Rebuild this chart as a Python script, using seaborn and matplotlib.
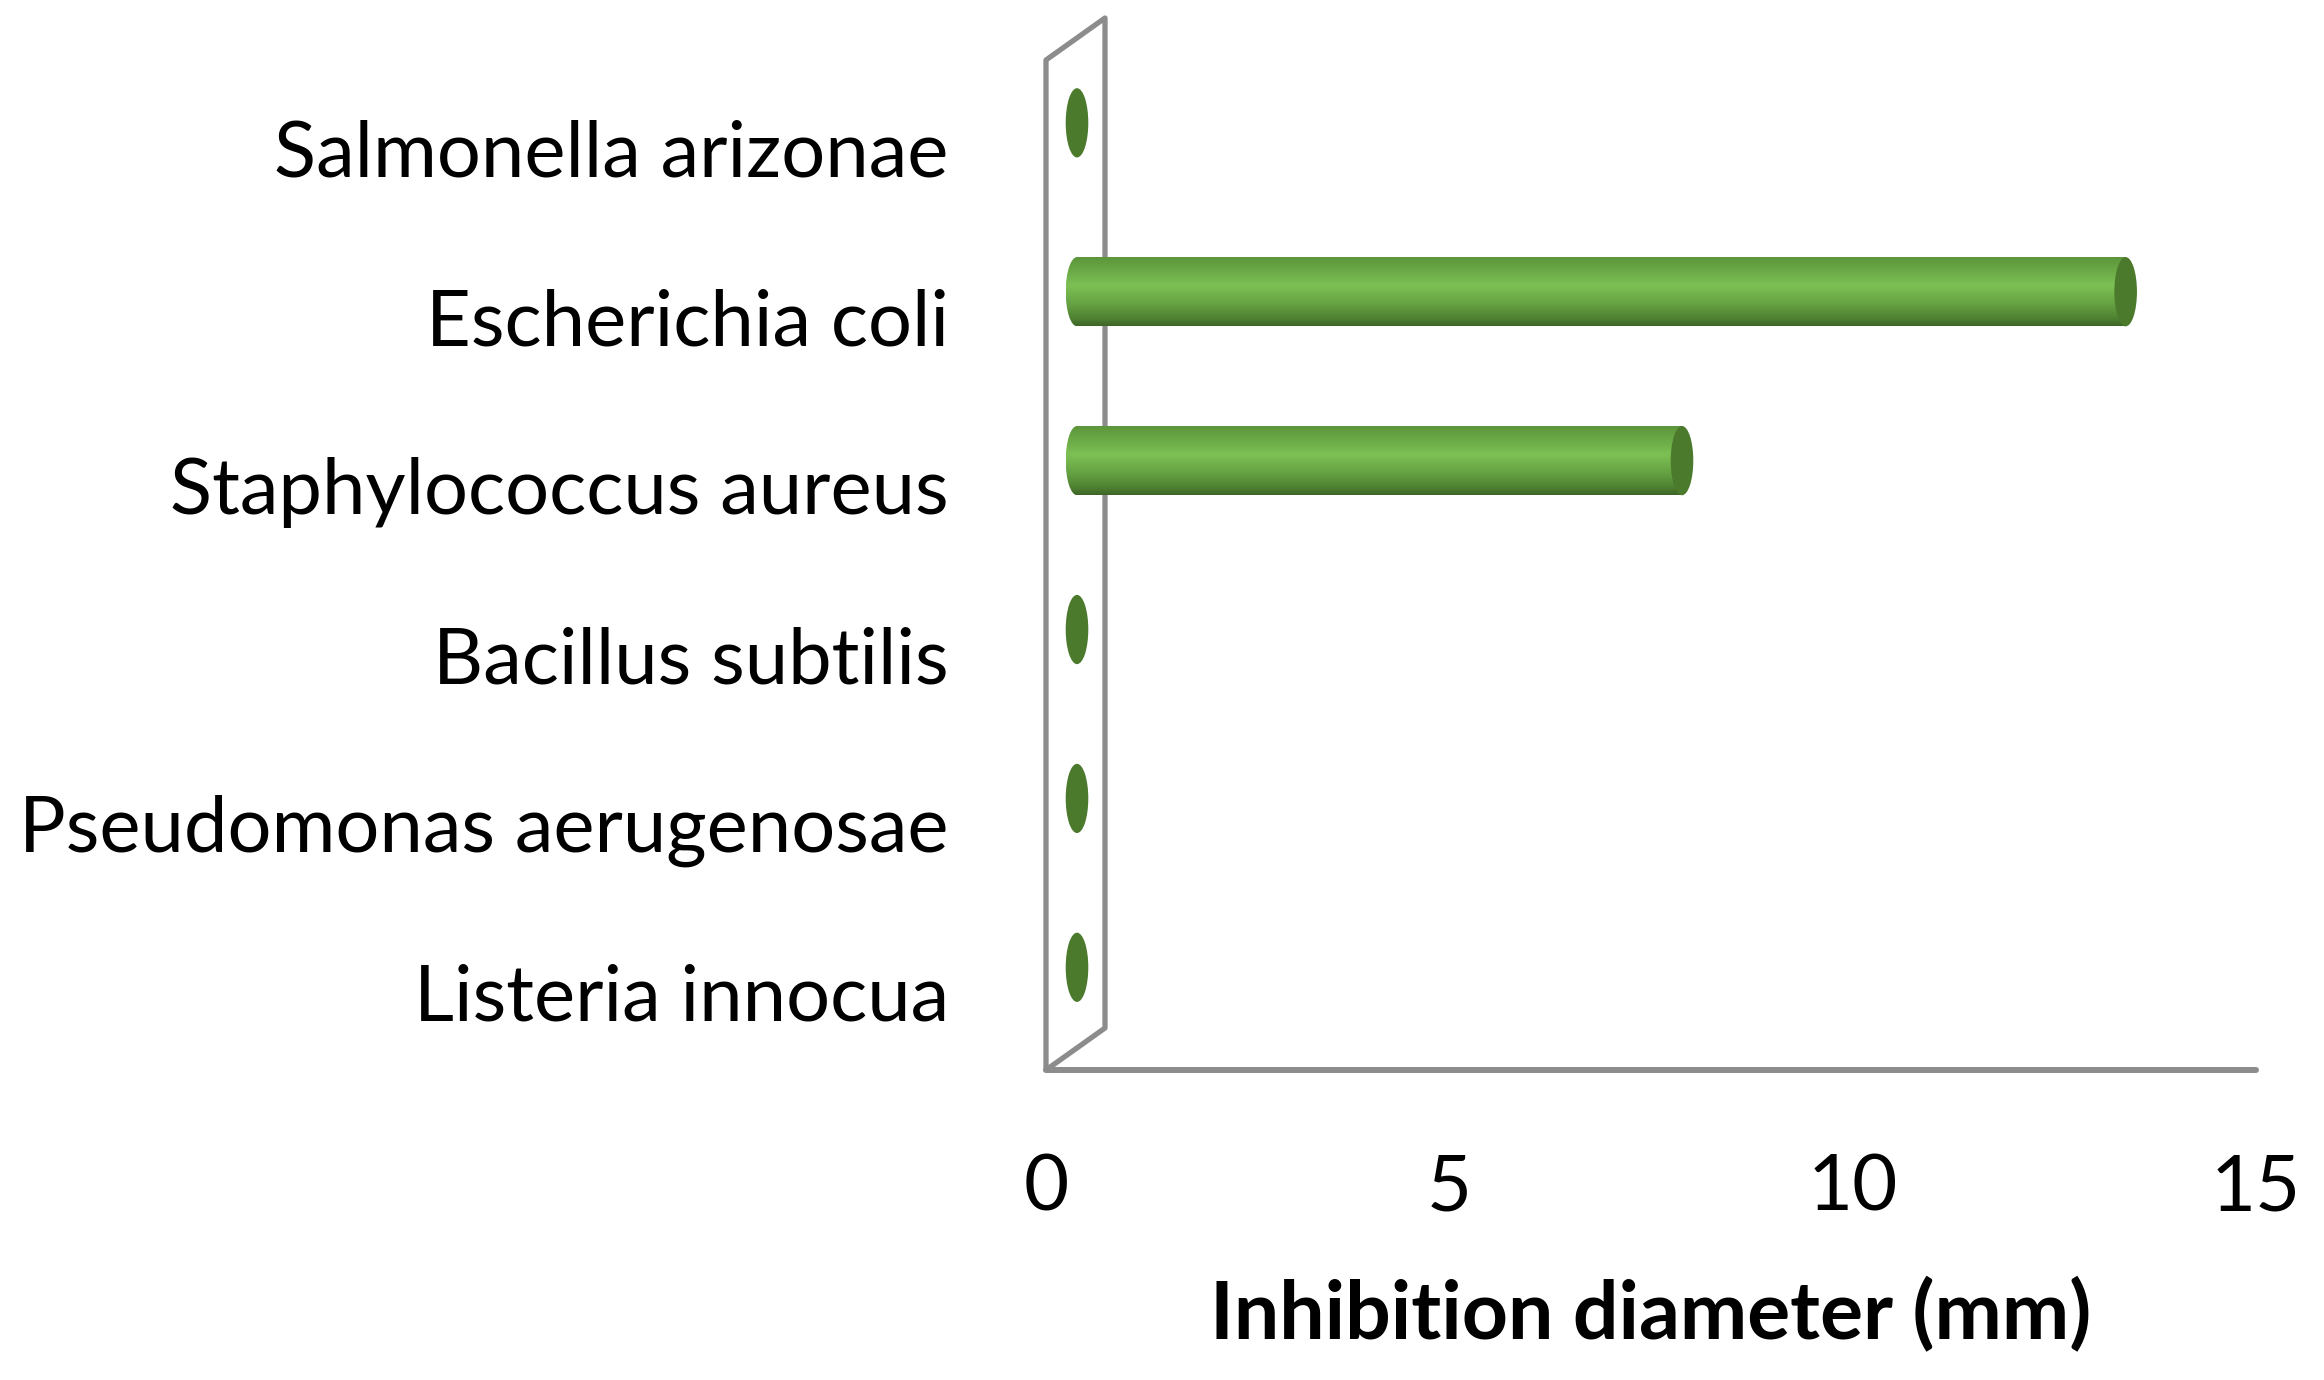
import numpy as np
import pandas as pd
import matplotlib
matplotlib.use("Agg")
import matplotlib.pyplot as plt
import matplotlib.transforms as mtransforms
from matplotlib.colors import LinearSegmentedColormap
from matplotlib.patches import Ellipse, Polygon
import seaborn as sns

species = ["Salmonella arizonae", "Escherichia coli", "Staphylococcus aureus",
           "Bacillus subtilis", "Pseudomonas aerugenosae", "Listeria innocua"]
inhibition = [0, 13, 7.5, 0, 0, 0]
x_ticks = [0, 5, 10, 15]

df = pd.DataFrame({"species": species, "diameter": inhibition})

sns.set_style("white")
plt.rcParams["font.family"] = ["Lato", "DejaVu Sans"]

fig = plt.figure(figsize=(23.24, 13.8), dpi=100)
# axes box: front plane of the fake 3d plot area
ax = fig.add_axes([1046 / 2324, 310 / 1380, 1210 / 2324, 1010 / 1380])

sns.barplot(data=df, x="diameter", y="species", orient="h", color="#6fae48",
            width=0.41, ax=ax)

ax.set_xlim(0, 15)
ax.set_ylim(5.46, -0.52)
ax.set_xticks(x_ticks)
ax.set_xticklabels([str(t) for t in x_ticks])
ax.tick_params(axis="x", length=0, pad=60, labelsize=56, labelcolor="black")
ax.tick_params(axis="y", length=0, pad=70, labelsize=56, labelcolor="black")
ax.set_ylabel("")
ax.set_xlabel("Inhibition diameter (mm)", fontsize=58, fontweight="bold",
              color="black", labelpad=38)

for side in ["top", "right", "left"]:
    ax.spines[side].set_visible(False)
ax.spines["bottom"].set_color("#8c8c8c")
ax.spines["bottom"].set_linewidth(4.3)
ax.spines["bottom"].set_capstyle("round")

# side wall (depth shown as a parallelogram)
dx, dy = 59 / 1210, 42 / 1010
wall = Polygon([(0, 0), (0, 1), (dx, 1 + dy), (dx, dy)], closed=True, fill=False,
               edgecolor="#8c8c8c", linewidth=3.8, joinstyle="round",
               transform=ax.transAxes, clip_on=False, zorder=1)
ax.add_patch(wall)

# bars sit half way into the depth
bar_trans = ax.transData + mtransforms.ScaledTranslation(0.31, 0.25, fig.dpi_scale_trans)

cyl = LinearSegmentedColormap.from_list(
    "cyl", [(0.0, "#5b9439"), (0.2, "#6aa846"), (0.42, "#7dc155"),
            (0.7, "#64a041"), (0.9, "#4d7f30"), (1.0, "#3e6428")])
grad = cyl(np.linspace(0, 1, 256))[:, None, :]
cap_w = 0.28
cap_color = "#4b7a2d"

for p in list(ax.patches):
    if not isinstance(p, matplotlib.patches.Rectangle) or p is wall:
        continue
    y0, h, v = p.get_y(), p.get_height(), p.get_width()
    yc = y0 + h / 2
    p.set_transform(bar_trans)
    p.set_facecolor("none")
    p.set_edgecolor("none")
    if v > 0:
        left_end = Ellipse((0, yc), cap_w, h, transform=bar_trans,
                           facecolor="none", edgecolor="none")
        ax.add_patch(left_end)
        for clip in (p, left_end):
            im = ax.imshow(grad, extent=[-cap_w / 2, v, y0 + h, y0], aspect="auto",
                           transform=bar_trans, interpolation="bilinear", zorder=3)
            im.set_clip_path(clip)
    ax.add_patch(Ellipse((v, yc), cap_w, h, transform=bar_trans,
                         facecolor=cap_color, edgecolor="none", zorder=4))

ax.set_xlim(0, 15)
ax.set_ylim(5.46, -0.52)

fig.savefig("out.png", dpi=100, facecolor="white")
